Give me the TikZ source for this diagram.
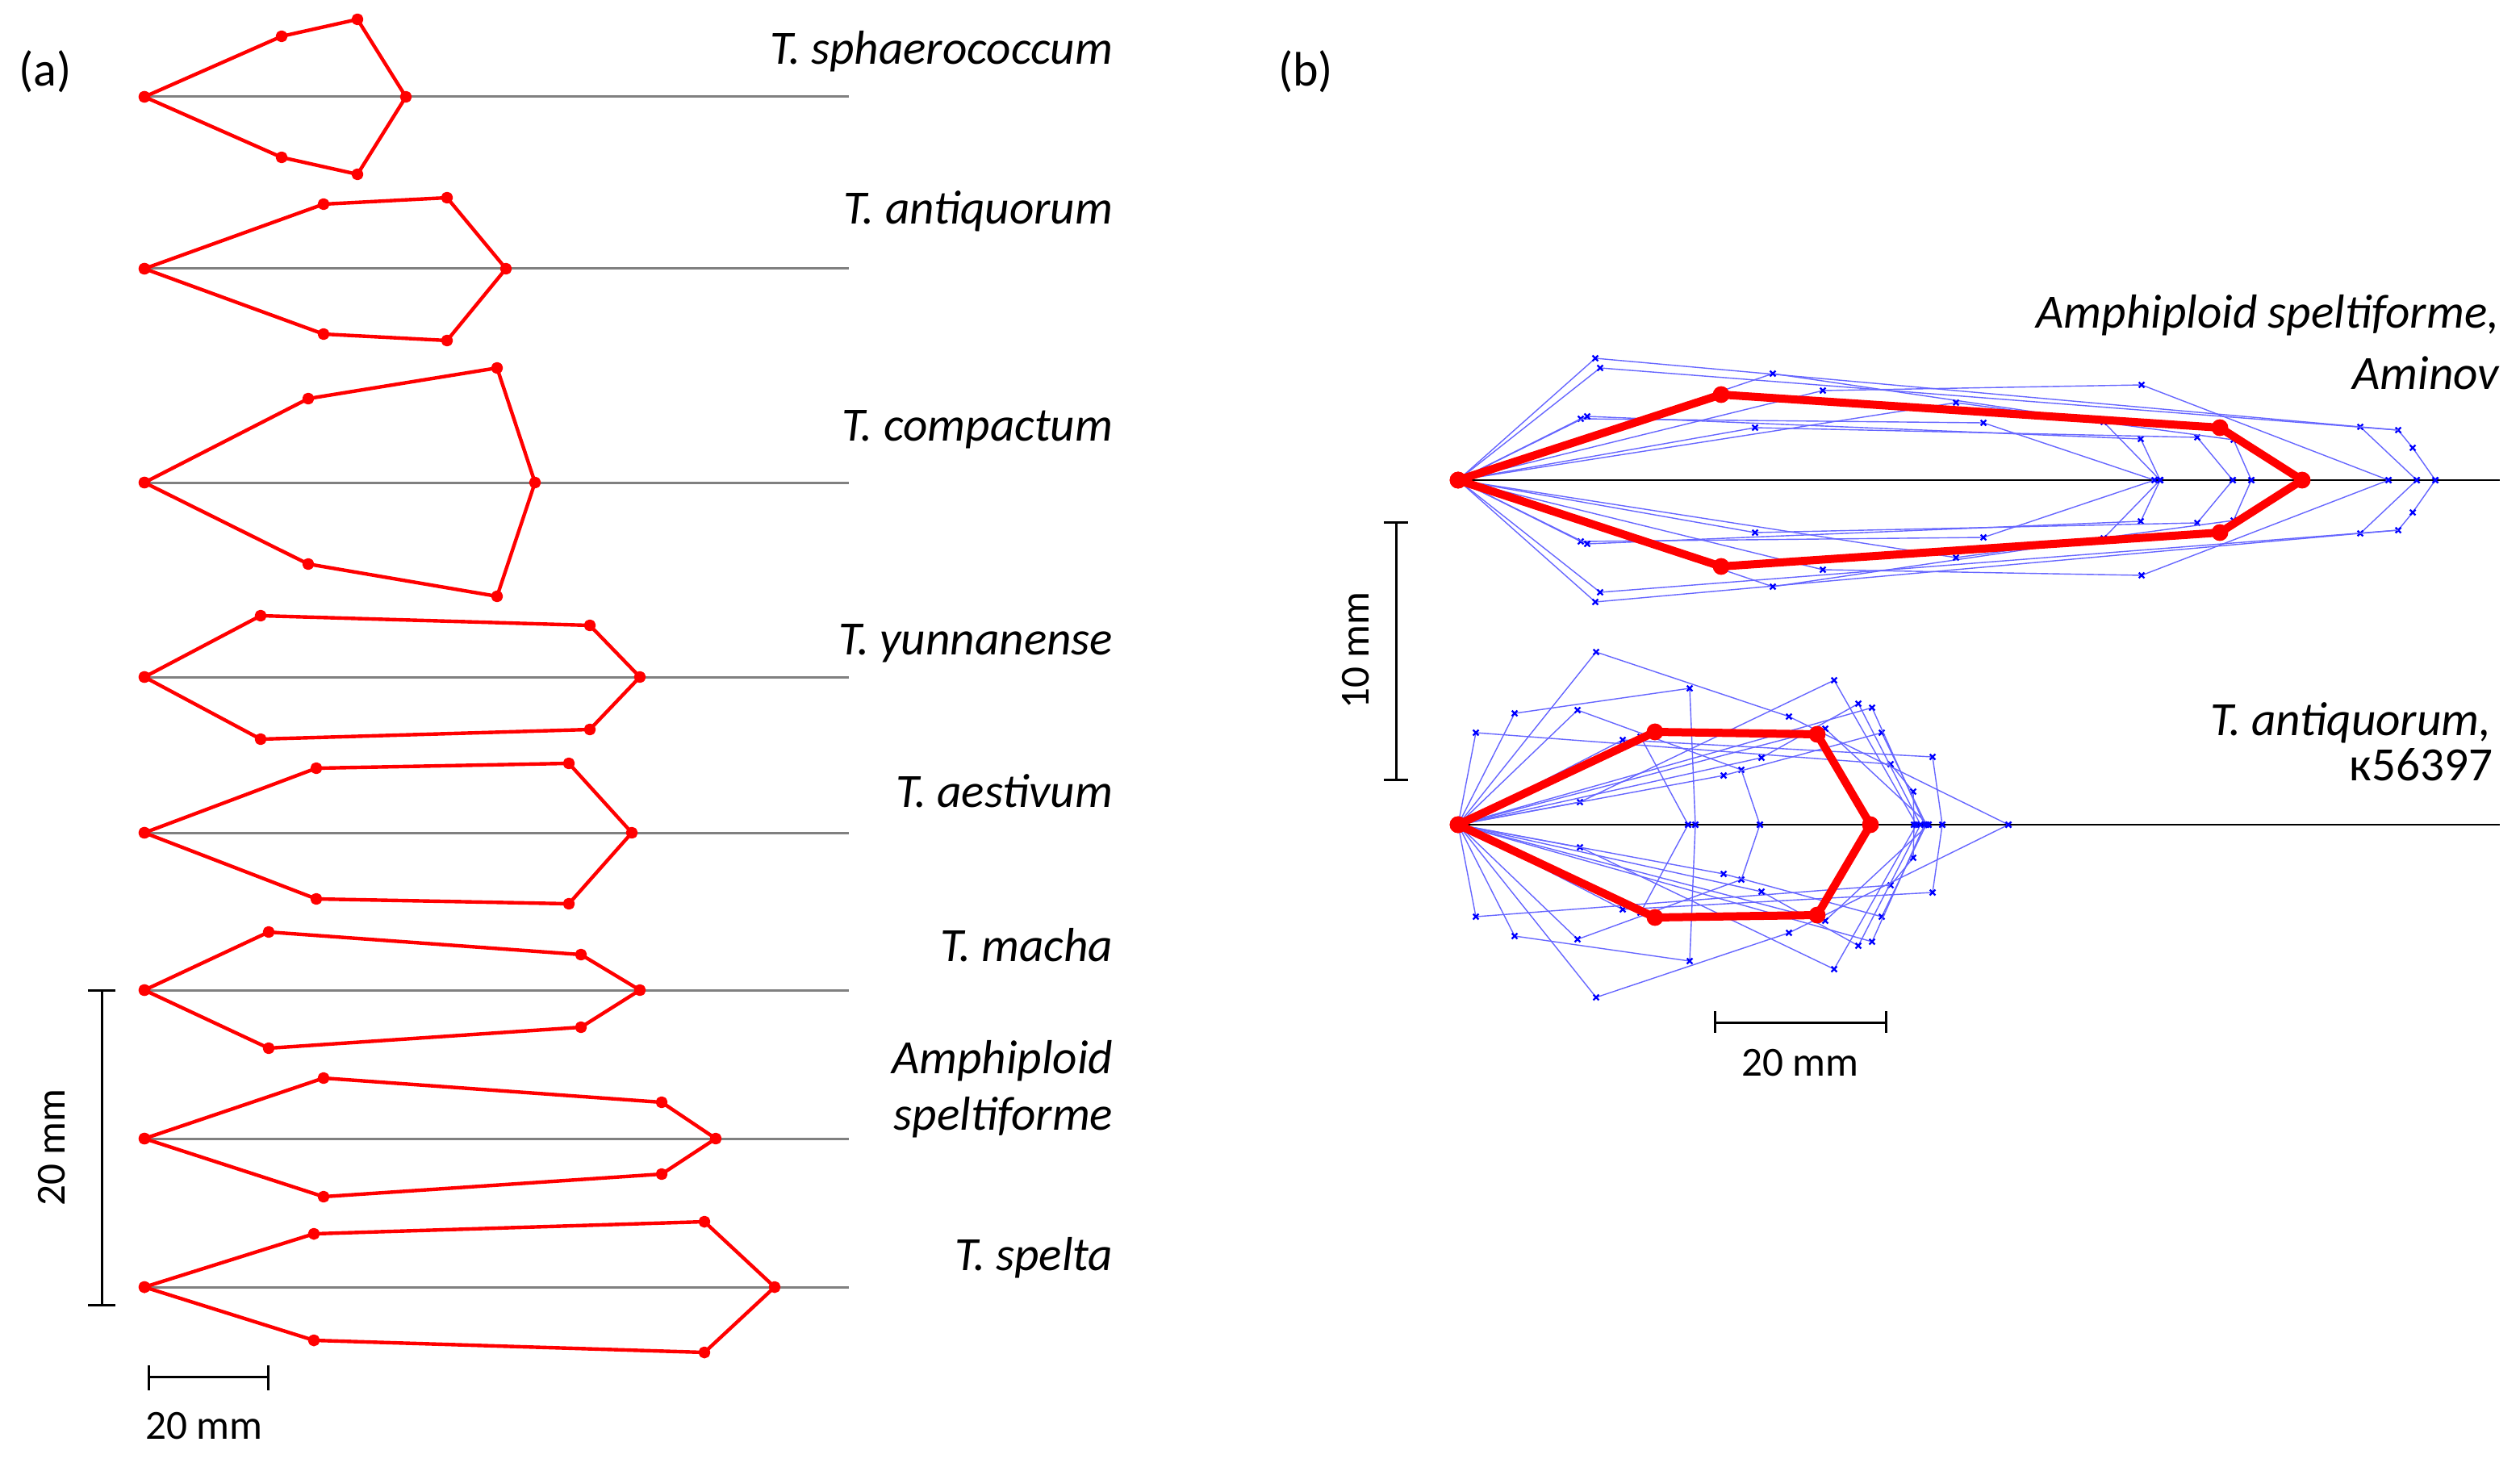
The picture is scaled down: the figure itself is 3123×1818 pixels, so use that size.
\documentclass[tikz,border=0pt]{standalone}
\usepackage{fontspec}
\setmainfont{Carlito}
\begin{document}
\begin{tikzpicture}[x=0.25pt,y=-0.25pt,
 axisA/.style={line width=0.75pt, black!50},
 redA/.style={line width=1.1pt, red, line join=round, mark=*, mark size=1.3pt, mark options={red}},
 axisB/.style={line width=0.5pt, black},
 redB/.style={line width=2.5pt, red, line join=round, mark=*, mark size=2.4pt, mark options={red, line width=0.4pt}},
 bl/.style={line width=0.35pt, blue!60, mark=x, mark size=1.2pt, mark options={blue, line width=0.6pt}},
 sbar/.style={line width=0.75pt, black},
 lab/.style={font=\fontsize{14.8}{17}\selectfont\itshape, anchor=base east, inner sep=0pt},
 plab/.style={font=\fontsize{15}{17}\selectfont, anchor=base, inner sep=0pt},
 slab/.style={font=\fontsize{12.8}{15}\selectfont, inner sep=0pt},
]
\useasboundingbox (0,0) rectangle (3123,1818);

% ---------------- panel (a) ----------------
\foreach \yy in {120,333,598,839,1032,1227,1411,1595}
  \draw[axisA] (179,\yy) -- (1052,\yy);

\draw[redA] plot coordinates {(179,120) (349,45) (443,24) (503,120) (443,216) (349,195) (179,120)};
\draw[redA] plot coordinates {(179,333) (401,253) (554,245) (627,333) (554,422) (401,414) (179,333)};
\draw[redA] plot coordinates {(179,598) (382,494) (616,456) (663,598) (616,739) (382,699) (179,598)};
\draw[redA] plot coordinates {(179,839) (323,763) (731,775) (793,839) (731,904) (323,916) (179,839)};
\draw[redA] plot coordinates {(179,1032) (392,952) (705,946) (783,1032) (705,1120) (392,1114) (179,1032)};
\draw[redA] plot coordinates {(179,1227) (333,1155) (720,1183) (793,1227) (720,1273) (333,1299) (179,1227)};
\draw[redA] plot coordinates {(179,1411) (401,1336) (820,1366) (887,1411) (820,1455) (401,1483) (179,1411)};
\draw[redA] plot coordinates {(179,1595) (389,1529) (873,1514) (960,1595) (873,1676) (389,1661) (179,1595)};

\node[plab] (la) at (56,107) {(a)};
\node[lab] (s1) at (1380,80) {T. sphaerococcum};
\node[lab] (s2) at (1380,278) {T. antiquorum};
\node[lab] (s3) at (1380,546) {T. compactum};
\node[lab] (s4) at (1380,811) {T. yunnanense};
\node[lab] (s5) at (1380,1000) {T. aestivum};
\node[lab] (s6) at (1380,1191) {T. macha};
\node[lab] (s7a) at (1380,1330) {Amphiploid};
\node[lab] (s7b) at (1380,1400) {speltiforme};
\node[lab] (s8) at (1380,1574) {T. spelta};

\draw[sbar] (109,1227) -- (143,1227) (126,1227) -- (126,1617) (109,1617) -- (143,1617);
\draw[sbar] (184,1692) -- (184,1723) (184,1706) -- (332,1706) (332,1692) -- (332,1723);
\node[slab, rotate=90] (sa1) at (64,1422) {20 mm};
\node[slab] (sa2) at (253,1767) {20 mm};

% ---------------- panel (b) ----------------
\node[plab] (lb) at (1618,107) {(b)};

% top shape
\draw[axisB] (1807,595) -- (3098,595);
\def\topchains{
\draw[bl] plot coordinates {(1807,595) (1977,444) (2925,529) (2995,595)};
\draw[bl] plot coordinates {(1807,595) (1983,456) (2972,533) (2990,555) (3018,595)};
\draw[bl] plot coordinates {(1807,595) (1959,519) (2458,524) (2670,595)};
\draw[bl] plot coordinates {(1807,595) (1967,516) (2653,544) (2677,595)};
\draw[bl] plot coordinates {(1807,595) (2197,463) (2607,523) (2677,595)};
\draw[bl] plot coordinates {(1807,595) (2175,530) (2723,542) (2767,595)};
\draw[bl] plot coordinates {(1807,595) (2259,484) (2654,477) (2960,595)};
\draw[bl] plot coordinates {(1807,595) (2424,499) (2768,545) (2790,595)};
\draw[bl] (2925,529) -- (2972,533);
}
\topchains
\begin{scope}[shift={(0,1190)}, yscale=-1]
\topchains
\end{scope}
\draw[redB] plot coordinates {(1807,595) (2133,489) (2751,530) (2853,595) (2751,660) (2133,702) (1807,595)};

% bottom shape
\draw[axisB] (1807,1022) -- (3098,1022);
\def\botchains{
\draw[bl] plot coordinates {(1807,1022) (1829,908) (2343,947) (2371,981) (2372,1022)};
\draw[bl] plot coordinates {(1807,1022) (1877,884) (2094,853) (2101,1022)};
\draw[bl] plot coordinates {(1807,1022) (1955,880) (2158,954) (2181,1022)};
\draw[bl] plot coordinates {(1807,1022) (1978,808) (2217,888) (2489,1022)};
\draw[bl] plot coordinates {(1807,1022) (1958,994) (2273,843) (2375,1022)};
\draw[bl] plot coordinates {(1807,1022) (2136,961) (2332,908) (2387,1022)};
\draw[bl] plot coordinates {(1807,1022) (2183,939) (2303,872) (2380,1022)};
\draw[bl] plot coordinates {(1807,1022) (2011,917) (2395,938) (2407,1022)};
\draw[bl] plot coordinates {(1807,1022) (2320,877) (2385,1022)};
\draw[bl] plot coordinates {(1807,1022) (2033,913) (2092,1022)};
\draw[bl] plot coordinates {(1807,1022) (2262,903) (2390,1022)};
}
\botchains
\begin{scope}[shift={(0,2044)}, yscale=-1]
\botchains
\end{scope}
\draw[redB] plot coordinates {(1807,1022) (2051,907) (2252,910) (2318,1022) (2252,1134) (2051,1137) (1807,1022)};

\node[lab] (b1a) at (3098,407) {Amphiploid speltiforme,};
\node[lab] (b1b) at (3098,483) {Aminov};
\node[lab] (b2a) at (3088,911) {T. antiquorum,};
\node[lab, font=\fontsize{14.8}{17}\selectfont\upshape] (b2b) at (3090,967) {к56397};

\draw[sbar] (1715,647) -- (1745,647) (1730,647) -- (1730,966) (1715,966) -- (1745,966);
\draw[sbar] (2125,1253) -- (2125,1280) (2125,1267) -- (2337,1267) (2337,1253) -- (2337,1280);
\node[slab, rotate=90] (sb1) at (1680,806) {10 mm};
\node[slab] (sb2) at (2231,1317) {20 mm};
\end{tikzpicture}
\end{document}
